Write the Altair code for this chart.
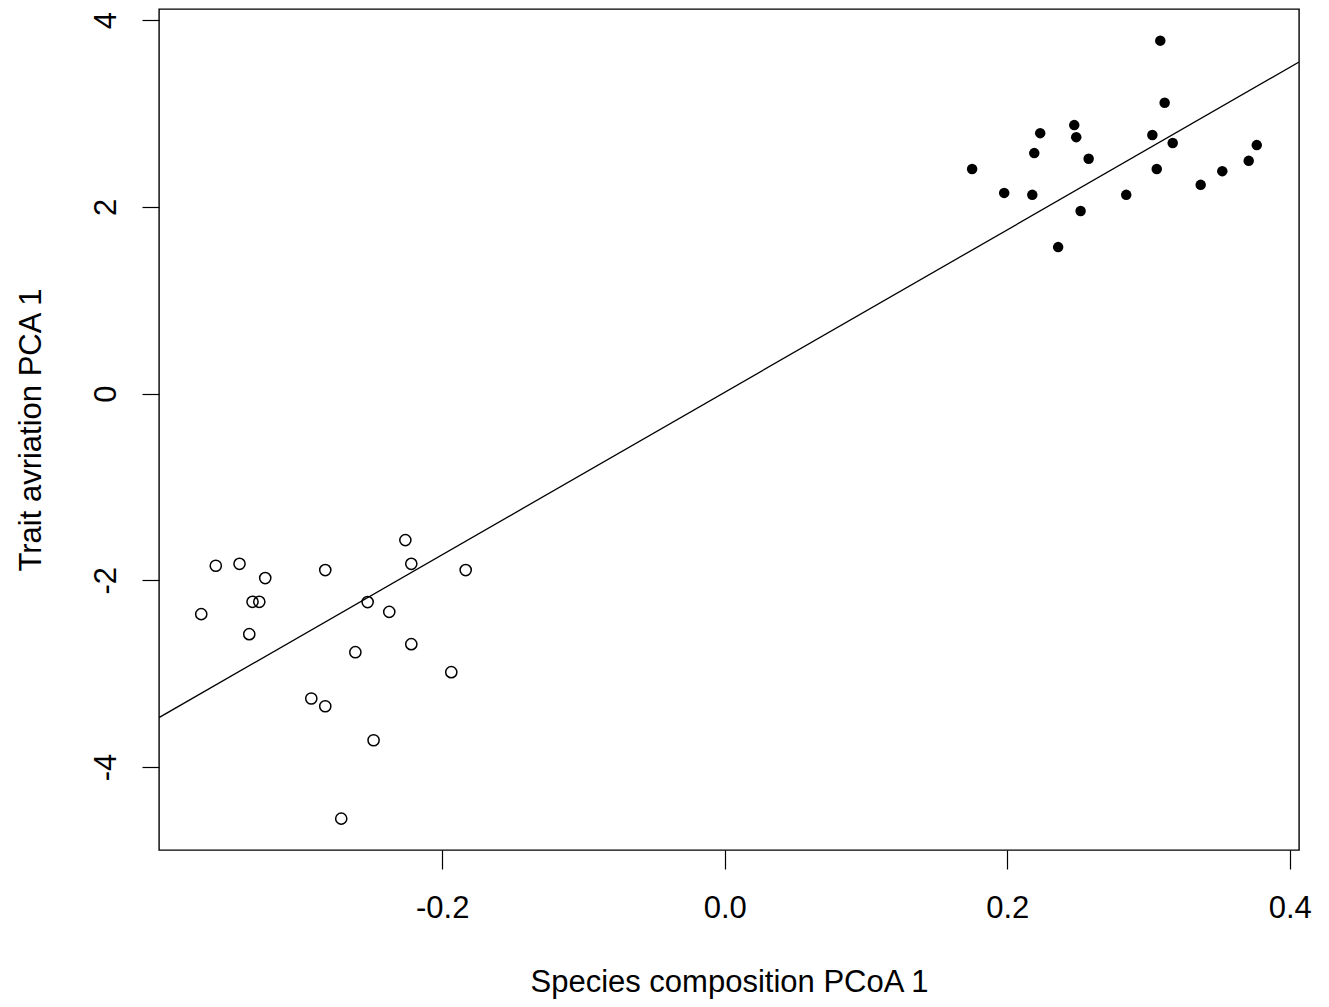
import altair as alt
import pandas as pd

# Open circles (negative PCoA group)
open_x = [-0.3603, -0.3435, -0.3253, -0.3343, -0.3295, -0.3706, -0.3366, -0.2828,
          -0.2261, -0.2219, -0.1834, -0.2528, -0.2375, -0.2219, -0.2615, -0.1936,
          -0.2927, -0.2828, -0.2486, -0.2715]
open_y = [-1.845, -1.824, -1.977, -2.231, -2.231, -2.363, -2.578, -1.891,
          -1.570, -1.824, -1.891, -2.234, -2.339, -2.685, -2.771, -2.985,
          -3.267, -3.350, -3.714, -4.554]

# Filled circles (positive PCoA group)
filled_x = [0.1751, 0.1978, 0.2177, 0.2191, 0.2233, 0.2474, 0.2488, 0.2576,
            0.2519, 0.2360, 0.2842, 0.3083, 0.3114, 0.3027, 0.3171, 0.3058,
            0.3369, 0.3522, 0.3709, 0.3766]
filled_y = [2.405, 2.150, 2.129, 2.576, 2.790, 2.876, 2.747, 2.515,
            1.955, 1.569, 2.129, 3.781, 3.116, 2.770, 2.684, 2.405,
            2.236, 2.383, 2.493, 2.662]

x_ticks = [-0.2, 0.0, 0.2, 0.4]
y_ticks = [-4, -2, 0, 2, 4]
x_domain = [-0.4005, 0.4065]
y_domain = [-4.89, 4.12]

open_df = pd.DataFrame({"x": open_x, "y": open_y})
filled_df = pd.DataFrame({"x": filled_x, "y": filled_y})
all_df = pd.concat([open_df, filled_df], ignore_index=True)

FONT = "Liberation Sans"

xs = alt.Scale(domain=x_domain, nice=False, zero=False)
ys = alt.Scale(domain=y_domain, nice=False, zero=False)

x_axis = alt.Axis(
    title="Species composition PCoA 1", values=x_ticks, format=".1f",
    labelExpr="replace(datum.label, '\u2212', '-')",
    grid=False, domain=False, tickSize=19, tickColor="black", tickWidth=1.2,
    labelFont=FONT, labelFontSize=31, labelColor="black",
    labelBaseline="alphabetic", labelPadding=48,
    titleFont=FONT, titleFontSize=31, titleFontWeight="normal", titleColor="black",
    titleBaseline="alphabetic", titleY=141,
)
y_axis = alt.Axis(
    title="Trait avriation PCA 1", values=y_ticks, format="d",
    labelExpr="replace(datum.label, '\u2212', '-')",
    grid=False, domain=False, tickSize=17, tickColor="black", tickWidth=1.2,
    labelFont=FONT, labelFontSize=31, labelColor="black",
    labelAngle=270, labelAlign="center", labelBaseline="alphabetic", labelPadding=27,
    titleFont=FONT, titleFontSize=31, titleFontWeight="normal", titleColor="black",
    titleAngle=270, titleAlign="center", titleBaseline="alphabetic", titleX=-119,
)

base_x = alt.X("x:Q", scale=xs, axis=x_axis)
base_y = alt.Y("y:Q", scale=ys, axis=y_axis)

open_pts = alt.Chart(open_df).mark_point(
    shape="circle", filled=False, stroke="black", strokeWidth=1.5, size=125, opacity=1
).encode(x=base_x, y=base_y)

filled_pts = alt.Chart(filled_df).mark_point(
    shape="circle", filled=True, fill="black", stroke="black", strokeWidth=0, size=110, opacity=1
).encode(x=base_x, y=base_y)

fit_line = alt.Chart(all_df).transform_regression(
    "x", "y", extent=x_domain
).mark_line(color="black", strokeWidth=1.3, clip=True).encode(x=base_x, y=base_y)

chart = alt.layer(fit_line, open_pts, filled_pts).properties(
    width=1140, height=841,
    autosize=alt.AutoSizeParams(type="none"),
    padding={"left": 151, "top": 1, "right": 20, "bottom": 149},
    background="white",
).configure_view(stroke="black", strokeWidth=1.4)

chart.save("out.html", embed_options={"renderer": "svg", "actions": False})
